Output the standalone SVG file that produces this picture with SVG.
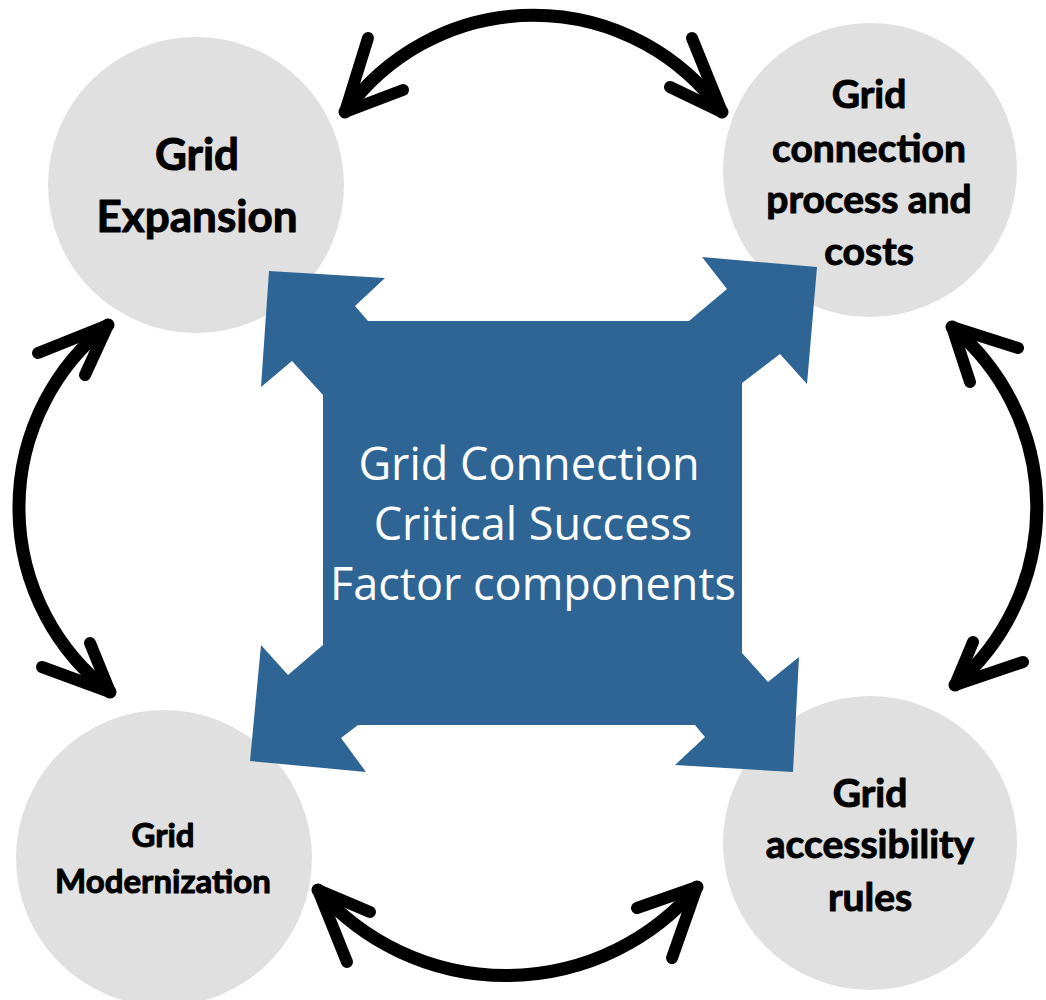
<svg xmlns="http://www.w3.org/2000/svg" width="1046" height="1000" viewBox="0 0 1046 1000">
  <style>
    .bubble { fill: #e0e0e0; }
    .label { font-family: "Lato", "Open Sans", sans-serif; font-weight: 700; fill: #000; stroke: #000; stroke-width: 1; stroke-linejoin: round; text-anchor: middle; }
    .core-label { font-family: "Open Sans", "Noto Sans", sans-serif; font-weight: 400; fill: #ffffff; text-anchor: middle; font-size: 45px; }
    .arc { fill: none; stroke: #000; stroke-width: 13; stroke-linecap: round; }
    .head { fill: none; stroke: #000; stroke-width: 12; stroke-linecap: round; stroke-linejoin: round; }
  </style>
  <rect x="0" y="0" width="1046" height="1000" fill="#ffffff"/>

  <!-- outer topic circles -->
  <g id="node-grid-expansion">
    <circle class="bubble" cx="196" cy="185" r="148"/>
    <text class="label" font-size="44" x="197" y="170">Grid</text>
    <text class="label" font-size="44" x="197" y="232">Expansion</text>
  </g>

  <g id="node-connection-process">
    <circle class="bubble" cx="870" cy="170" r="147"/>
    <text class="label" font-size="39" x="869" y="108">Grid</text>
    <text class="label" font-size="39" x="869" y="162">connection</text>
    <text class="label" font-size="39" x="869" y="213">process and</text>
    <text class="label" font-size="39" x="869" y="265">costs</text>
  </g>

  <g id="node-grid-modernization">
    <circle class="bubble" cx="164" cy="858" r="148"/>
    <text class="label" font-size="33" x="163" y="847">Grid</text>
    <text class="label" font-size="33" x="163" y="893">Modernization</text>
  </g>

  <g id="node-accessibility-rules">
    <circle class="bubble" cx="870" cy="843" r="147"/>
    <text class="label" font-size="39" x="870" y="807">Grid</text>
    <text class="label" font-size="39" x="870" y="858">accessibility</text>
    <text class="label" font-size="39" x="870" y="911">rules</text>
  </g>

  <!-- central block with four diagonal arrows -->
  <g id="node-core">
    <polygon fill="#2e6594" points="269,271 385,278 355,306 368,321 689,321 727,289 702,257 817,267 807,384 780,354 742,383 742,653 768,682 799,657 793,772 675,765 705,737 695,725 358,725 341,738 366,772 250,761 261,645 288,675 323,645 323,395 292,361 261,387"/>
    <text class="core-label" x="529" y="480">Grid Connection</text>
    <text class="core-label" x="533" y="540">Critical Success</text>
    <text class="core-label" x="533" y="600">Factor components</text>
  </g>

  <!-- curved two-way connectors between neighbouring circles -->
  <g id="connectors">
    <!-- top: expansion <-> connection process -->
    <path class="arc" d="M345,112 A232,232 0 0 1 722,112"/>
    <path class="head" d="M368,38 L345,112 L403,90"/>
    <path class="head" d="M692,38 L722,112 L670,87"/>

    <!-- left: expansion <-> modernization -->
    <path class="arc" d="M108,325 A232,232 0 0 0 110,692"/>
    <path class="head" d="M38,353 L108,325 L85,375"/>
    <path class="head" d="M42,667 L110,692 L90,643"/>

    <!-- right: connection process <-> accessibility -->
    <path class="arc" d="M952,327 A234,234 0 0 1 955,685"/>
    <path class="head" d="M1018,348 L952,327 L970,382"/>
    <path class="head" d="M1023,662 L955,685 L973,642"/>

    <!-- bottom: modernization <-> accessibility -->
    <path class="arc" d="M318,890 A250,250 0 0 0 697,887"/>
    <path class="head" d="M370,912 L318,890 L347,962"/>
    <path class="head" d="M637,908 L697,887 L672,958"/>
  </g>
</svg>
